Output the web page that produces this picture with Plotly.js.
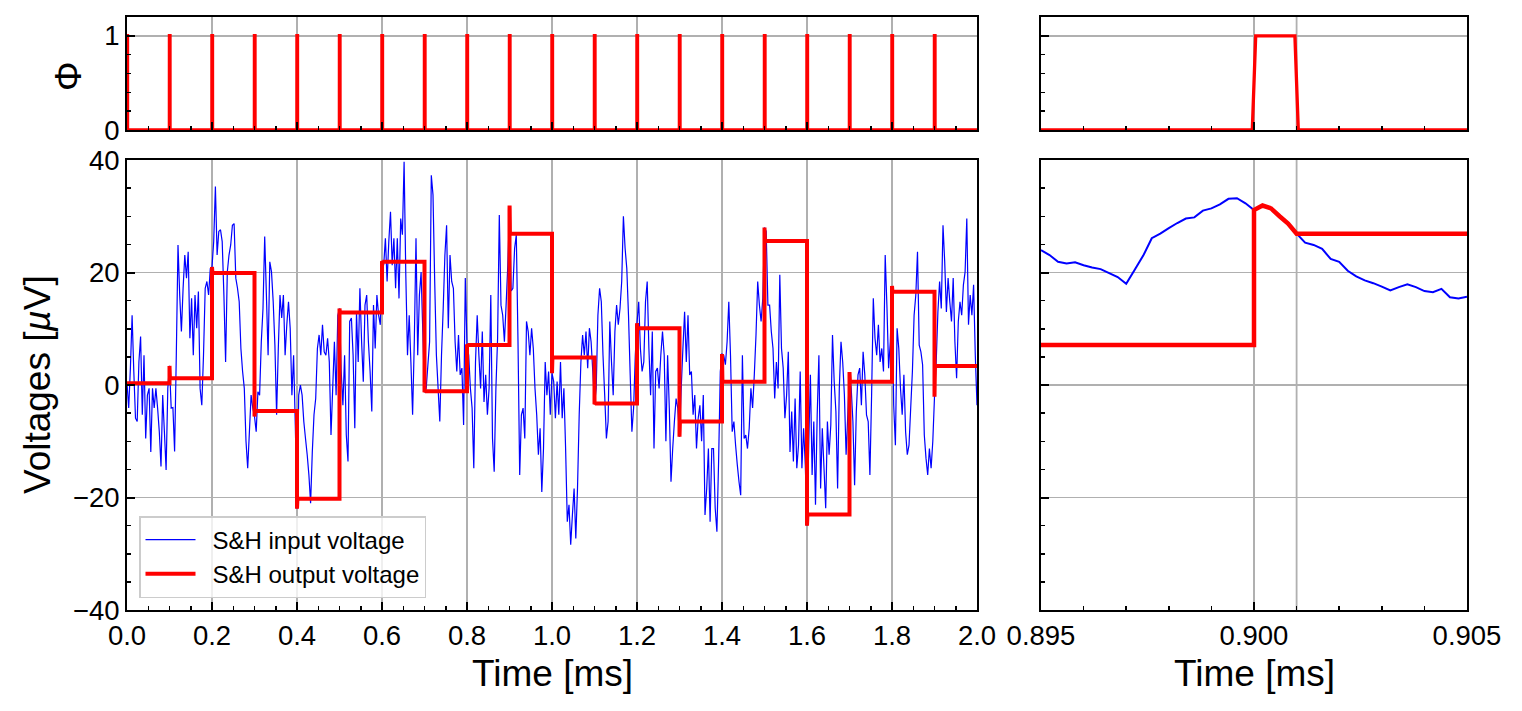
<!DOCTYPE html>
<html><head><meta charset="utf-8">
<script src="https://cdn.plot.ly/plotly-3.0.1.min.js"></script>
<style>html,body{margin:0;padding:0;background:#fff}#chart{width:1522px;height:711px}</style>
</head><body><div id="chart"></div>
<script>
// ---------------- data ----------------
const inputStep = 0.004; // ms between input samples (full view)
const inputVoltage = [
0.3,-4.1,3.0,12.4,2.4,-5.9,-6.5,4.1,8.6,-5.3,
5.3,-9.5,-1.8,-0.6,-11.9,-0.6,-4.1,-0.6,-4.1,-8.3,
-14.5,-1.8,-8.3,-15.1,-0.6,3.4,-4.1,-4.0,-11.8,5.3,
24.9,16.0,9.5,17.2,23.1,19.0,23.7,8.3,15.4,5.3,
16.0,10.1,16.6,-0.6,-3.6,5.3,17.2,18.4,16.0,20.7,
21.0,25.5,35.3,23.1,27.3,27.6,25.5,16.0,4.1,20.1,
23.1,24.9,28.4,28.7,19.0,17.2,14.8,6.5,2.4,-0.6,
-10.0,-14.8,-8.3,-1.8,-4.1,-5.6,-8.3,-1.2,-1.8,7.7,
13.6,26.4,16.0,5.3,21.9,20.1,14.8,7.1,-5.3,6.5,
16.0,11.9,16.0,5.3,10.7,14.8,10.1,-1.8,5.3,-7.1,
-22.0,-1.8,0.0,-1.8,-6.5,-9.5,-12.4,-16.0,-21.0,-11.9,
-5.3,-2.4,6.5,8.9,5.3,10.7,5.9,5.3,8.3,4.1,
-8.9,-0.6,7.7,-1.8,12.4,
13.6,2.4,-3.6,5.3,-8.9,-13.6,11.3,11.9,5.3,-7.7,
13.0,4.1,17.2,7.7,0.6,14.2,16.0,7.7,2.4,-4.7,
14.2,6.5,16.0,12.4,10.7,22.0,21.3,26.1,18.4,25.5,
30.8,21.3,26.1,17.2,26.1,15.4,29.6,26.7,39.7,19.6,
5.3,12.4,4.1,-5.3,7.7,26.1,5.3,16.0,20.1,9.5,
-1.3,-0.6,3.6,7.7,37.3,33.8,18.4,5.3,-0.6,-6.5,
5.3,13.6,23.1,28.4,10.1,23.1,18.4,17.2,7.7,2.4,
8.9,1.8,3.0,-7.1,19.0,7.2,5.3,-0.6,-4.1,-14.8,
4.1,12.4,5.3,-0.6,9.5,-3.0,1.8,-5.3,-0.6,16.0,
-9.5,-15.4,-0.6,8.3,30.2,14.2,12.4,7.7,14.2,21.3,
31.1,16.7,17.2,24.3,26.7,7.7,-16.0,-5.3,-4.1,-9.5,
11.3,9.5,5.3,10.1,6.5,-0.6,-5.3,-12.4,-7.7,-19.0,
-11.3,4.1,-1.8,2.4,-5.3,
2.1,0.6,-5.9,0.6,-5.3,4.1,-5.9,-0.6,-11.3,-24.3,
-21.3,-28.4,-23.1,-18.4,-27.3,-18.4,-5.3,4.1,8.9,5.3,
9.5,3.0,10.1,7.7,2.4,-3.4,-0.6,12.4,17.2,14.8,
5.3,-1.8,-9.5,-6.5,11.3,4.1,-1.8,9.5,14.2,10.7,
13.6,18.4,30.0,24.3,20.7,12.4,1.8,-8.3,-4.1,5.3,
11.0,14.8,6.5,2.4,4.1,14.8,18.4,6.5,-1.8,9.5,
-11.3,2.4,3.0,-0.6,5.3,9.5,5.3,-10.0,5.3,-4.1,
-17.2,-11.3,-6.5,-2.4,-4.1,-9.2,-0.6,6.5,13.0,4.1,
12.4,1.8,2.4,-5.3,-1.8,-11.3,-5.9,-3.6,-10.0,-1.8,
-23.1,-18.4,-11.3,-24.3,-11.3,-11.3,-21.9,-26.1,-13.6,2.4,
5.5,5.3,3.6,7.7,14.8,5.3,-8.3,-6.5,-10.7,-14.2,
-17.2,-19.6,5.3,-9.5,-8.9,-11.3,-7.7,-0.6,-4.1,1.8,
8.9,18.4,14.2,11.3,15.4,
28.0,27.3,14.2,14.2,9.5,6.5,-2.4,4.1,-0.6,19.6,
6.5,3.0,-5.9,-1.8,5.9,-11.9,-4.7,-13.6,-2.4,-14.8,
-10.7,2.4,-14.8,-7.7,-14.2,-25.0,-10.7,1.8,-16.0,-6.5,
-21.3,-5.3,5.3,-18.4,-7.7,-14.8,-21.9,-6.5,-12.4,-7.1,
8.9,0.6,-4.7,-18.4,-0.6,7.7,4.1,-1.8,-12.4,-5.3,
2.3,-0.6,-6.5,-17.8,-4.7,1.8,3.0,-3.6,5.9,1.8,
-5.3,-6.5,-16.0,-1.8,15.4,8.3,5.3,10.7,4.1,6.5,
2.4,23.1,14.2,3.0,7.7,17.6,-3.6,-10.7,10.1,6.5,
-0.6,-5.3,1.8,-8.3,-12.4,-10.7,-4.1,2.4,12.4,16.0,
23.7,7.1,5.9,3.6,-8.9,-13.0,-16.0,-11.3,-14.8,-10.0,
-2.1,4.1,13.0,18.4,13.6,28.4,21.9,13.0,19.0,14.8,
11.3,19.0,7.7,1.2,11.3,14.8,12.4,17.8,20.1,29.6,
10.7,16.0,12.4,17.8,5.3,-3.6
];

// fine-resolution input around the sample at 0.9 ms (zoomed view)
const zoomStart = 0.895, zoomEnd = 0.905, zoomStep = 0.0002;
const zoomVoltage = [
24.0,23.1,21.9,21.6,21.8,21.3,20.9,20.6,19.9,19.2,
18.0,20.5,23.0,26.1,26.9,27.9,28.8,29.6,29.8,31.0,
31.4,32.1,33.1,33.2,32.3,31.1,31.9,31.4,30.0,28.7,
26.9,25.3,24.9,24.2,22.4,21.9,20.3,19.3,18.6,18.1,
17.5,16.8,17.4,17.9,17.4,16.7,16.5,17.1,15.6,15.4,
15.7
];

const sampleTimes = [0.0,0.1,0.2,0.3,0.4,0.5,0.6,0.7,0.8,0.9,1.0,1.1,1.2,1.3,1.4,1.5,1.6,1.7,1.8,1.9];
const sampleWindow = 0.001;   // ms the switch is closed (Φ = 1)
const clockEdge = 0.00008;    // ms rise/fall of Φ
const holdVoltage = [0.3,1.2,19.9,-4.6,-20.2,12.9,21.9,-1.1,7.1,26.9,4.9,-3.3,10.1,-6.5,0.6,25.6,-23.0,0.6,16.6,3.4];

const legendNames = ['S&amp;H input voltage', 'S&amp;H output voltage'];

// ---------------- derived series ----------------
const inputTime = inputVoltage.map((_, i) => +(i * inputStep).toFixed(4));
const zoomTime = zoomVoltage.map((_, j) => +(zoomStart + j * zoomStep).toFixed(5));
const tEnd = inputTime[inputTime.length - 1];
const valueAt = t => inputVoltage[Math.round(t / inputStep)];

const outT = [], outV = [];
sampleTimes.forEach((tk, k) => {
  const tHold = tk + sampleWindow;
  const idx = [];
  zoomTime.forEach((t, j) => { if (t >= tk - 1e-9 && t <= tHold + 1e-9) idx.push(j); });
  if (idx.length >= 2) {
    idx.forEach(j => { outT.push(zoomTime[j]); outV.push(zoomVoltage[j]); });
  } else {
    outT.push(tk); outV.push(valueAt(tk));
    outT.push(tHold); outV.push(holdVoltage[k]);
  }
  const tNext = k + 1 < sampleTimes.length ? sampleTimes[k + 1] : tEnd;
  outT.push(tNext); outV.push(holdVoltage[k]);
});

const clkT = [], clkV = [];
sampleTimes.forEach(tk => {
  clkT.push(tk - clockEdge / 2, tk + clockEdge / 2, tk + sampleWindow - clockEdge / 2, tk + sampleWindow + clockEdge / 2);
  clkV.push(0, 1, 1, 0);
});
clkT.push(tEnd); clkV.push(0);

const zoomSample = sampleTimes.find(t => t > zoomStart && t < zoomEnd);
const holdMark = zoomSample + sampleWindow;

// ---------------- styling ----------------
const FONT = 'Liberation Sans, Arial, sans-serif';
const BLUE = '#0000ff', RED = '#ff0000', GRID = '#b0b0b0';
const W = 1522, H = 711;
const xL = [127 / W, 977 / W], xR = [1041 / W, 1467 / W];
const yB = [(H - 610) / H, (H - 160) / H], yT = [(H - 130) / H, (H - 17) / H];

function axis(extra) {
  return Object.assign({
    showline: true, linecolor: '#000', linewidth: 2, mirror: true,
    ticks: 'inside', ticklen: 8, tickwidth: 2, tickcolor: '#000',
    showgrid: true, gridcolor: GRID, gridwidth: 1.8, zeroline: false,
    tickfont: { family: FONT, size: 27.5, color: '#000' },
    fixedrange: true
  }, extra);
}
function minor(d) { return { dtick: d, ticks: 'inside', ticklen: 4, tickwidth: 1.5, tickcolor: '#000', showgrid: false }; }

const pad = '\u2002';
const traces = [
  { x: inputTime, y: inputVoltage, xaxis: 'x', yaxis: 'y', type: 'scatter', mode: 'lines',
    name: pad + legendNames[0], line: { color: BLUE, width: 1.2, simplify: false } },
  { x: outT, y: outV, xaxis: 'x', yaxis: 'y', type: 'scatter', mode: 'lines',
    name: pad + legendNames[1], line: { color: RED, width: 4, simplify: false } },
  { x: clkT, y: clkV, xaxis: 'x2', yaxis: 'y2', type: 'scatter', mode: 'lines', showlegend: false,
    line: { color: RED, width: 3.5, simplify: false } },
  { x: zoomTime, y: zoomVoltage, xaxis: 'x3', yaxis: 'y3', type: 'scatter', mode: 'lines', showlegend: false,
    line: { color: BLUE, width: 2, simplify: false } },
  { x: outT, y: outV, xaxis: 'x3', yaxis: 'y3', type: 'scatter', mode: 'lines', showlegend: false,
    line: { color: RED, width: 4.5, simplify: false } },
  { x: clkT, y: clkV, xaxis: 'x4', yaxis: 'y4', type: 'scatter', mode: 'lines', showlegend: false,
    line: { color: RED, width: 3.3, simplify: false } }
];

const titleFont = { family: FONT, size: 37, color: '#000' };
const layout = {
  width: W, height: H,
  margin: { l: 0, r: 0, t: 0, b: 0 },
  paper_bgcolor: '#fff', plot_bgcolor: '#fff',
  font: { family: FONT, color: '#000' },
  xaxis: axis({ domain: xL, anchor: 'y', range: [0, 2], dtick: 0.2, tick0: 0, tickformat: '.1f', minor: minor(0.05) }),
  yaxis: axis({ domain: yB, anchor: 'x', range: [-40, 40], dtick: 20, tick0: 0, minor: minor(5) }),
  xaxis2: axis({ domain: xL, anchor: 'y2', range: [0, 2], dtick: 0.2, tick0: 0, showticklabels: false, minor: minor(0.05) }),
  yaxis2: axis({ domain: yT, anchor: 'x2', range: [0, 1.2], dtick: 1, tick0: 0, minor: minor(0.2) }),
  xaxis3: axis({ domain: xR, anchor: 'y3', range: [zoomStart, zoomEnd], dtick: 0.005, tick0: zoomStart, tickformat: '.3f', minor: minor(0.001) }),
  yaxis3: axis({ domain: yB, anchor: 'x3', range: [-40, 40], dtick: 20, tick0: 0, showticklabels: false, minor: minor(5) }),
  xaxis4: axis({ domain: xR, anchor: 'y4', range: [zoomStart, zoomEnd], dtick: 0.005, tick0: zoomStart, showticklabels: false, minor: minor(0.001) }),
  yaxis4: axis({ domain: yT, anchor: 'x4', range: [0, 1.2], dtick: 1, tick0: 0, showticklabels: false, minor: minor(0.2) }),
  shapes: [
    { type: 'line', xref: 'x3', yref: 'y3 domain', x0: holdMark, x1: holdMark, y0: 0, y1: 1, layer: 'below', line: { color: GRID, width: 1.8 } },
    { type: 'line', xref: 'x4', yref: 'y4 domain', x0: holdMark, x1: holdMark, y0: 0, y1: 1, layer: 'below', line: { color: GRID, width: 1.8 } }
  ],
  showlegend: true,
  legend: {
    x: 139 / W, y: (H - 598) / H, xanchor: 'left', yanchor: 'bottom',
    bgcolor: 'rgba(255,255,255,0.8)', bordercolor: '#cccccc', borderwidth: 1.5,
    font: { family: FONT, size: 24, color: '#000' }, itemwidth: 50, tracegroupgap: 0
  },
  annotations: [
    { text: 'Φ', xref: 'paper', yref: 'paper', x: 69 / W, y: 1 - 76 / H, xanchor: 'center', yanchor: 'middle', textangle: -90, showarrow: false, font: titleFont },
    { text: 'Voltages [<i>µ</i>V]', xref: 'paper', yref: 'paper', x: 37 / W, y: 1 - 385 / H, xanchor: 'center', yanchor: 'middle', textangle: -90, showarrow: false, font: titleFont },
    { text: 'Time [ms]', xref: 'paper', yref: 'paper', x: 552 / W, y: 1 - 673 / H, xanchor: 'center', yanchor: 'middle', showarrow: false, font: titleFont },
    { text: 'Time [ms]', xref: 'paper', yref: 'paper', x: 1254 / W, y: 1 - 673 / H, xanchor: 'center', yanchor: 'middle', showarrow: false, font: titleFont }
  ]
};

Plotly.newPlot('chart', traces, layout, { staticPlot: true, displayModeBar: false });
</script></body></html>
